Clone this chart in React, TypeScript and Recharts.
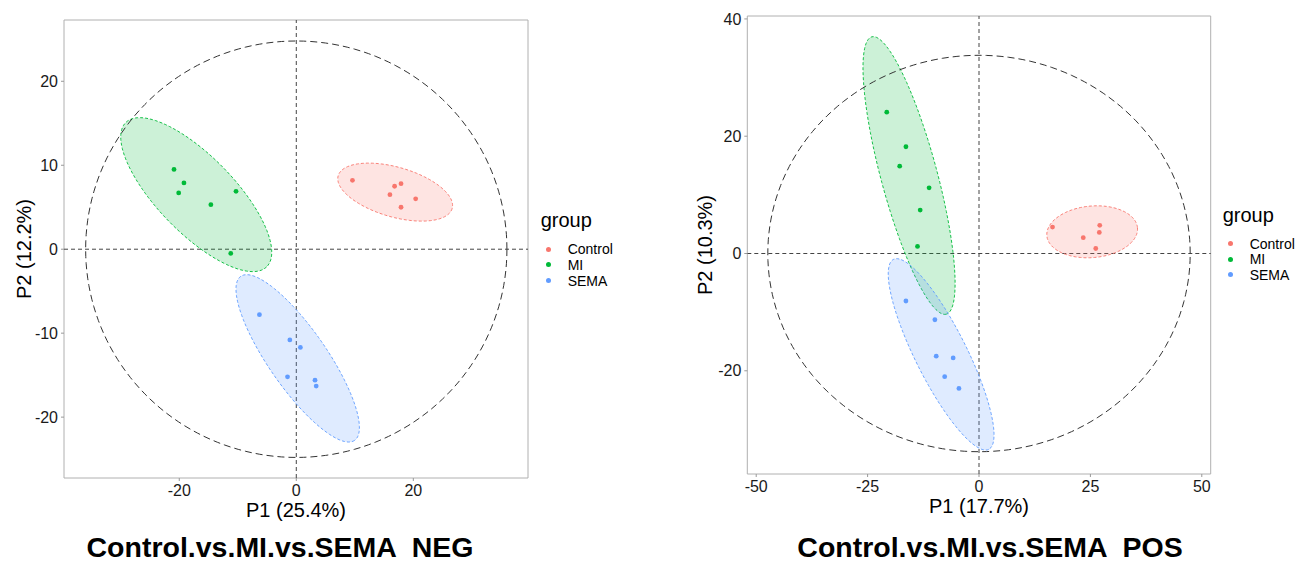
import React from 'react'
import { ScatterChart, Scatter, XAxis, YAxis, ReferenceLine, ReferenceArea, Label } from 'recharts'

const FONT = '"Liberation Sans", Arial, Helvetica, sans-serif'

const groups = ['Control', 'MI', 'SEMA']
const groupColors = ['#F8766D', '#00BA38', '#619CFF']

// NEG mode scores (P1, P2)
const negControlP1 = [9.6, 16.8, 17.9, 16.0, 20.4, 17.9]
const negControlP2 = [8.2, 7.5, 7.8, 6.5, 6.0, 5.0]
const negMIP1 = [-20.9, -19.2, -20.1, -10.3, -14.6, -11.2]
const negMIP2 = [9.5, 7.9, 6.7, 6.9, 5.3, -0.5]
const negSEMAP1 = [-6.3, -1.1, 0.7, -1.5, 3.2, 3.4]
const negSEMAP2 = [-7.8, -10.8, -11.7, -15.2, -15.6, -16.3]

// POS mode scores (P1, P2)
const posControlP1 = [16.5, 27.1, 27.0, 23.4, 26.2]
const posControlP2 = [4.5, 4.8, 3.6, 2.7, 0.85]
const posMIP1 = [-20.7, -16.4, -17.8, -11.2, -13.2, -13.8]
const posMIP2 = [24.1, 18.2, 14.9, 11.2, 7.4, 1.2]
const posSEMAP1 = [-16.4, -9.9, -9.6, -5.8, -7.7, -4.5]
const posSEMAP2 = [-8.1, -11.3, -17.5, -17.8, -21.0, -23.0]

// group ellipses: centre P1, centre P2, half-axis 1 (dP1, dP2), half-axis 2 (dP1, dP2)
const negEllipses = [
  [16.9, 6.8, 9.74, -1.95, -1.17, -2.85],
  [-17.1, 6.5, 12.03, -8.6, -4.67, -3.18],
  [0.24, -13.0, 9.72, -9.77, -4.09, -1.97],
]
const posEllipses = [
  [25.4, 3.7, 10.17, 0.68, 0.5, -4.38],
  [-15.7, 13.3, 8.35, -23.65, -6.09, -1.24],
  [-8.5, -17.2, 10.68, -16.2, -5.18, -1.96],
]

// Hotelling T2 ellipse radii (P1, P2)
const negT2 = [36, 24.8]
const posT2 = [47.4, 33.8]

const negXDomain = [-39.7, 39.6]
const negYDomain = [-27.25, 27.3]
const posXDomain = [-52, 52]
const posYDomain = [-37.6, 40.5]

const negXTicks = [-20, 0, 20]
const negYTicks = [-20, -10, 0, 10, 20]
const posXTicks = [-50, -25, 0, 25, 50]
const posYTicks = [-20, 0, 20, 40]

function ellipsePoints(e: number[], n = 120) {
  const [cx, cy, ux, uy, vx, vy] = e
  const pts = []
  for (let i = 0; i <= n; i++) {
    const t = (i / n) * Math.PI * 2
    pts.push({ x: cx + ux * Math.cos(t) + vx * Math.sin(t), y: cy + uy * Math.cos(t) + vy * Math.sin(t) })
  }
  return pts
}

const toPoints = (xs: number[], ys: number[]) => xs.map((x, i) => ({ x, y: ys[i] }))

const noDot = () => <g />

function ScorePlot({ p1, p2, ellipses, t2, xDomain, yDomain, xTicks, yTicks, xLabel, yLabel, width, height, margin, yLabelOffset }: any) {
  return (
    <ScatterChart width={width} height={height} margin={margin} style={{ fontFamily: FONT }}>
      <XAxis
        type="number" dataKey="x" domain={xDomain} ticks={xTicks} allowDataOverflow
        axisLine={false} tickSize={3} tickMargin={4} tickLine={{ stroke: '#999' }}
        tick={{ fontSize: 16, fill: '#1a1a1a' }} height={44}
      >
        <Label value={xLabel} position="insideBottom" offset={5} fontSize={20} fill="#000" />
      </XAxis>
      <YAxis
        type="number" dataKey="y" domain={yDomain} ticks={yTicks} allowDataOverflow
        axisLine={false} tickSize={3} tickMargin={3} tickLine={{ stroke: '#999' }}
        tick={{ fontSize: 16, fill: '#1a1a1a' }} width={44}
      >
        <Label value={yLabel} angle={-90} position="insideLeft" offset={yLabelOffset} fontSize={20} fill="#000" style={{ textAnchor: 'middle' }} />
      </YAxis>
      <ReferenceArea x1={xDomain[0]} x2={xDomain[1]} y1={yDomain[0]} y2={yDomain[1]} fill="none" stroke="#b0b0b0" strokeWidth={1} />
      {ellipses.map((e: number[], i: number) => (
        <Scatter
          key={'ell' + i}
          data={ellipsePoints(e)}
          shape={noDot}
          line={{ stroke: groupColors[i], strokeOpacity: 0.9, strokeDasharray: '3 2', strokeWidth: 1, fill: groupColors[i], fillOpacity: 0.2 }}
          lineJointType="linear"
          isAnimationActive={false}
        />
      ))}
      <Scatter
        data={ellipsePoints([0, 0, t2[0], 0, 0, t2[1]], 180)}
        shape={noDot}
        line={{ stroke: '#333', strokeDasharray: '7 4', strokeWidth: 1, fill: 'none' }}
        lineJointType="linear"
        isAnimationActive={false}
      />
      <ReferenceLine x={0} stroke="#444" strokeDasharray="4 3" strokeWidth={1} />
      <ReferenceLine y={0} stroke="#444" strokeDasharray="4 3" strokeWidth={1} />
      {groups.map((g, i) => (
        <Scatter
          key={g}
          name={g}
          data={toPoints(p1[i], p2[i])}
          fill={groupColors[i]}
          shape={(s: any) => <circle cx={s.cx} cy={s.cy} r={2.4} fill={groupColors[i]} />}
          isAnimationActive={false}
        />
      ))}
    </ScatterChart>
  )
}

function GroupLegend({ left, top }: { left: number; top: number }) {
  return (
    <div style={{ position: 'absolute', left, top, fontFamily: FONT }}>
      <div style={{ position: 'absolute', left: 0, top: 0, fontSize: 20, lineHeight: '20px', whiteSpace: 'nowrap', color: '#000' }}>group</div>
      {groups.map((g, i) => (
        <div key={g}>
          <div style={{ position: 'absolute', left: 5.3, top: 36.5 + i * 15.6, width: 5, height: 5, borderRadius: '50%', background: groupColors[i] }} />
          <div style={{ position: 'absolute', left: 27, top: 32.1 + i * 15.6, fontSize: 14, lineHeight: '14px', whiteSpace: 'nowrap', color: '#000' }}>{g}</div>
        </div>
      ))}
    </div>
  )
}

const titleStyle: React.CSSProperties = {
  position: 'absolute', top: 537, width: 600, textAlign: 'center', fontFamily: FONT,
  fontWeight: 'bold', fontSize: 28.5, lineHeight: '20px', whiteSpace: 'pre', color: '#000',
}

export default function App() {
  return (
    <div style={{ position: 'absolute', left: 0, top: 0, width: 1297, height: 563, background: '#fff', overflow: 'hidden' }}>
      <div style={{ position: 'absolute', left: 0, top: 0 }}>
        <ScorePlot
          p1={[negControlP1, negMIP1, negSEMAP1]}
          p2={[negControlP2, negMIP2, negSEMAP2]}
          ellipses={negEllipses} t2={negT2}
          xDomain={negXDomain} yDomain={negYDomain} xTicks={negXTicks} yTicks={negYTicks}
          xLabel="P1 (25.4%)" yLabel="P2 (12.2%)"
          width={540} height={522} margin={{ top: 20, right: 12, bottom: 0, left: 20 }} yLabelOffset={4}
        />
      </div>
      <GroupLegend left={540.7} top={210.4} />
      <div style={{ ...titleStyle, left: 280 - 300 }}>{'Control.vs.MI.vs.SEMA  NEG'}</div>

      <div style={{ position: 'absolute', left: 680, top: 0 }}>
        <ScorePlot
          p1={[posControlP1, posMIP1, posSEMAP1]}
          p2={[posControlP2, posMIP2, posSEMAP2]}
          ellipses={posEllipses} t2={posT2}
          xDomain={posXDomain} yDomain={posYDomain} xTicks={posXTicks} yTicks={posYTicks}
          xLabel="P1 (17.7%)" yLabel="P2 (10.3%)"
          width={540} height={518} margin={{ top: 16, right: 9.3, bottom: 0, left: 23.3 }} yLabelOffset={2}
        />
      </div>
      <GroupLegend left={1222.7} top={204.8} />
      <div style={{ ...titleStyle, left: 990 - 300 }}>{'Control.vs.MI.vs.SEMA  POS'}</div>
    </div>
  )
}
